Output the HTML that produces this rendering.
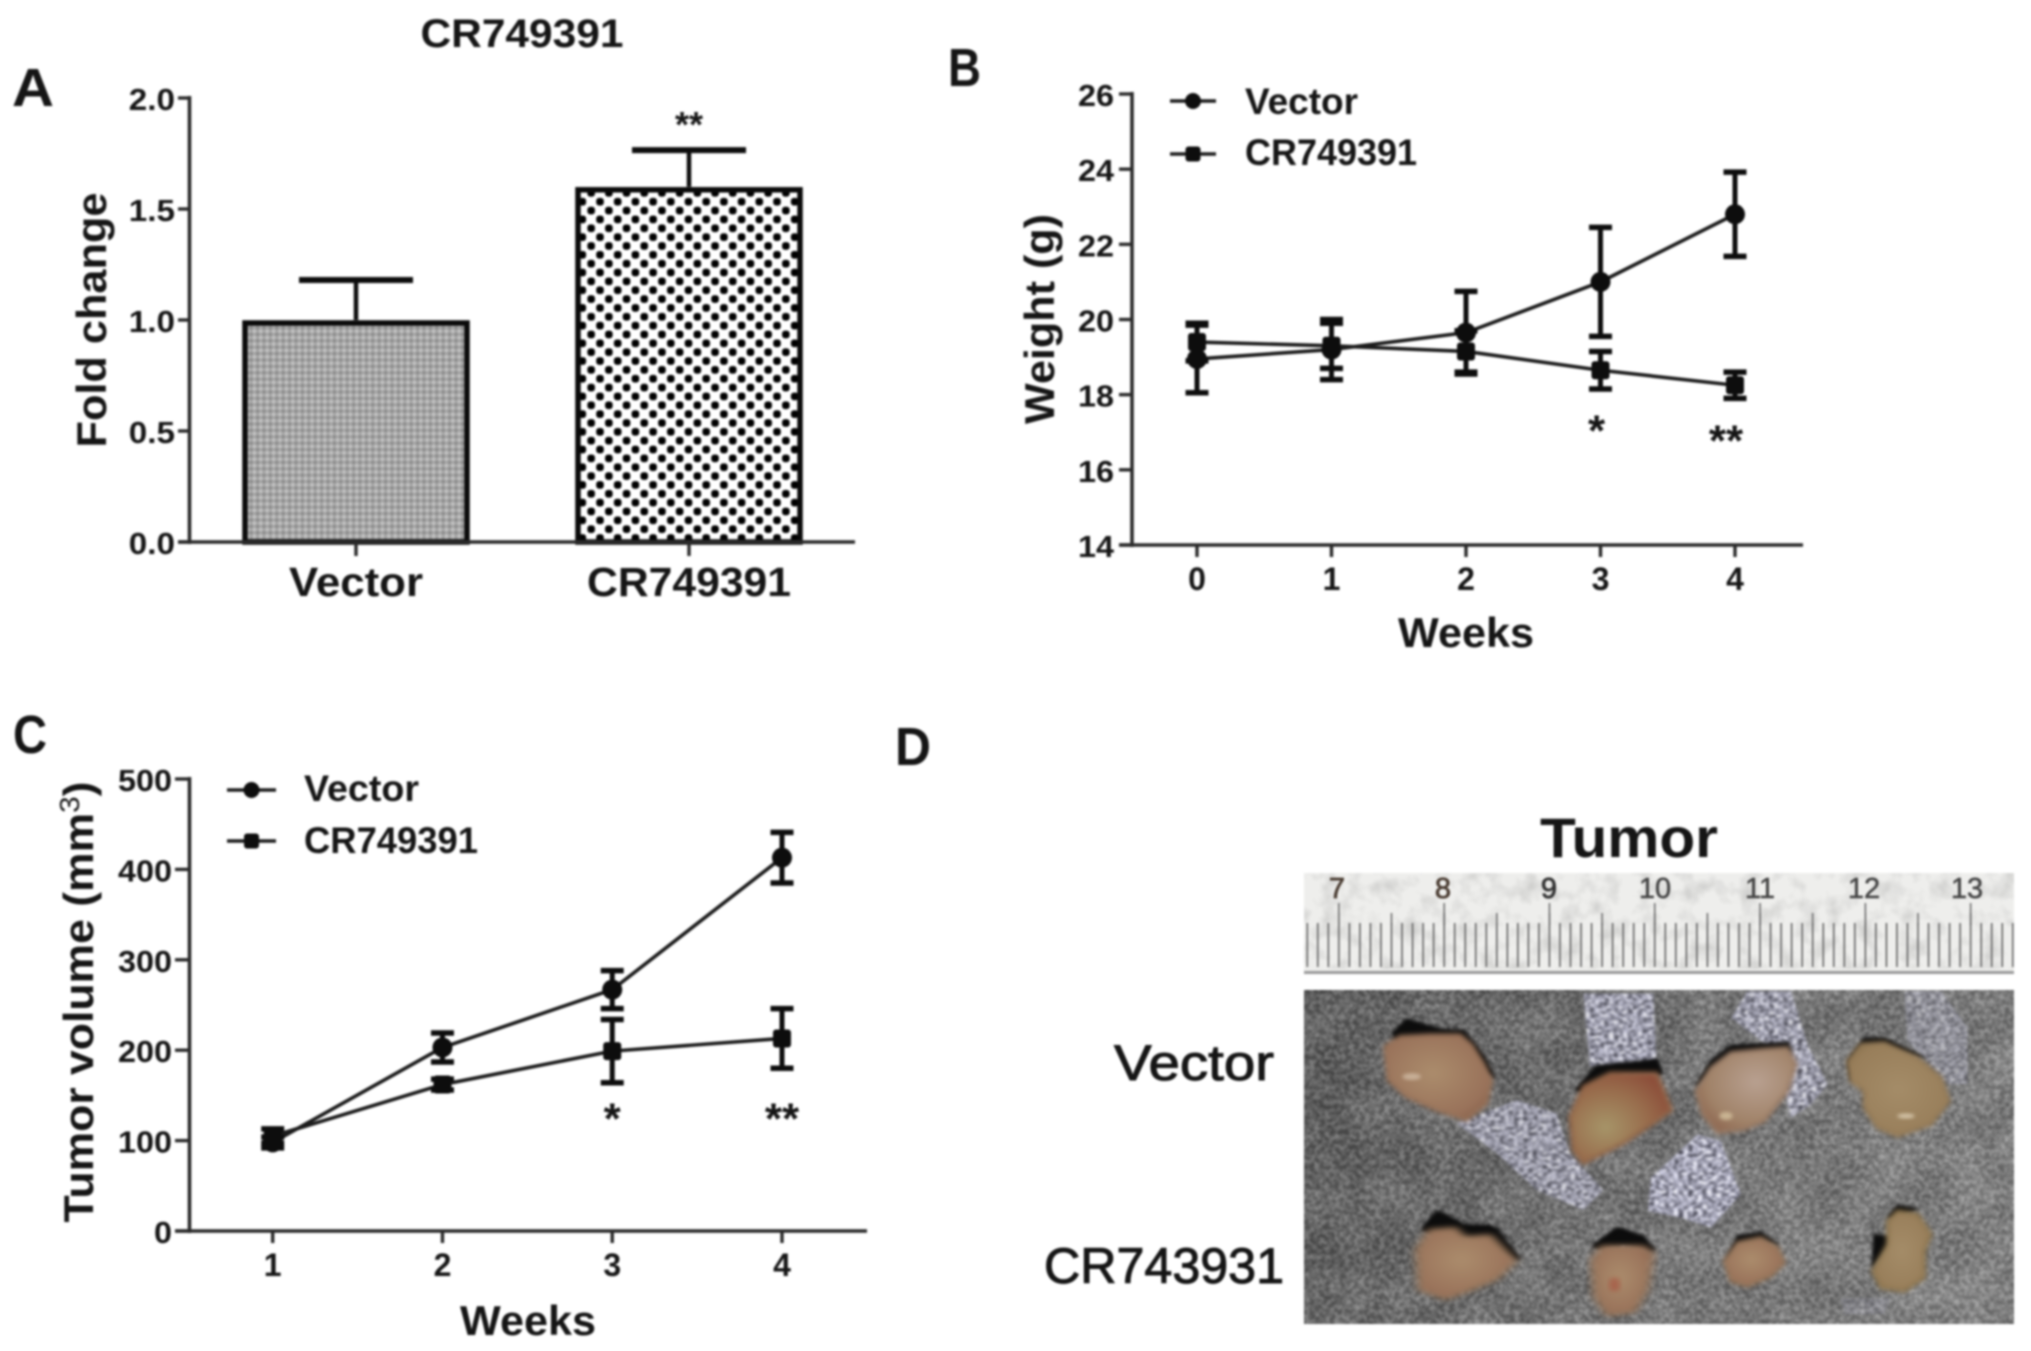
<!DOCTYPE html>
<html lang="en">
<head>
<meta charset="utf-8">
<title>CR749391 tumor figure</title>
<style>
html,body{margin:0;padding:0;background:#fff;}
svg{display:block;}
text{font-family:"Liberation Sans",sans-serif;fill:#151515;}
.b{font-weight:700;}
</style>
</head>
<body>
<svg id="figure" xmlns="http://www.w3.org/2000/svg" width="2031" height="1351" viewBox="0 0 2031 1351">
<defs>
  <filter id="soft" x="-2%" y="-2%" width="104%" height="104%" color-interpolation-filters="sRGB"><feGaussianBlur stdDeviation="1"/></filter>
  <filter id="soft3" x="-20%" y="-20%" width="140%" height="140%" color-interpolation-filters="sRGB"><feGaussianBlur stdDeviation="5"/></filter>
  <filter id="soft-tissue" x="-10%" y="-10%" width="120%" height="120%" color-interpolation-filters="sRGB"><feGaussianBlur stdDeviation="7"/></filter>
  <filter id="noise" x="0" y="0" width="1" height="1" color-interpolation-filters="sRGB">
    <feTurbulence type="fractalNoise" baseFrequency="0.2" numOctaves="3" seed="7"/>
    <feColorMatrix values="2 0 0 0 -0.58  2 0 0 0 -0.58  2 0 0 0 -0.58  0 0 0 0 1"/>
  </filter>
  <filter id="mottle" x="0" y="0" width="1" height="1" color-interpolation-filters="sRGB">
    <feTurbulence type="fractalNoise" baseFrequency="0.022" numOctaves="3" seed="11"/>
    <feColorMatrix values="2.6 0 0 0 -0.85  2.6 0 0 0 -0.85  2.6 0 0 0 -0.85  0 0 0 0 1"/>
  </filter>
  <filter id="paper" x="0" y="0" width="1" height="1" color-interpolation-filters="sRGB">
    <feTurbulence type="fractalNoise" baseFrequency="0.05" numOctaves="3" seed="3"/>
    <feColorMatrix values="1.6 0 0 0 0.1  1.6 0 0 0 0.1  1.6 0 0 0 0.1  0 0 0 0 1"/>
  </filter>
  <filter id="silver" x="0" y="0" width="1" height="1" color-interpolation-filters="sRGB">
    <feTurbulence type="fractalNoise" baseFrequency="0.07 0.11" numOctaves="2" seed="4"/>
    <feColorMatrix values="1.7 0 0 0 -0.2  1.7 0 0 0 -0.2  1.8 0 0 0 -0.18  0 0 0 0 1"/>
    <feComposite in2="SourceAlpha" operator="in"/>
    <feGaussianBlur stdDeviation="3"/>
  </filter>
  <pattern id="check-coarse" patternUnits="userSpaceOnUse" x="595.6" y="197.3" width="17.7" height="17.7">
    <rect width="17.7" height="17.7" fill="#fff"/>
    <rect x="0.6" y="0.6" width="7.6" height="7.6" rx="2.8" fill="#000"/>
    <rect x="9.45" y="9.45" width="7.6" height="7.6" rx="2.8" fill="#000"/>
  </pattern>
  <pattern id="check-fine" patternUnits="userSpaceOnUse" width="6.4" height="6.4">
    <rect width="6.4" height="6.4" fill="#a6a6a6"/>
    <rect x="0" y="0" width="3.2" height="3.2" fill="#8c8c8c"/>
    <rect x="3.2" y="3.2" width="3.2" height="3.2" fill="#c4c4c4"/>
  </pattern>
  <pattern id="mm-ticks" patternUnits="userSpaceOnUse" x="1338" y="0" width="10.53" height="1351">
    <rect x="0" y="923" width="1.7" height="44" fill="#6c6c6c"/>
  </pattern>
  <pattern id="half-ticks" patternUnits="userSpaceOnUse" x="1338" y="0" width="52.65" height="1351">
    <rect x="0" y="913" width="1.7" height="12" fill="#777"/>
  </pattern>
  <pattern id="cm-ticks" patternUnits="userSpaceOnUse" x="1338" y="0" width="105.3" height="1351">
    <rect x="0" y="903" width="1.7" height="22" fill="#777"/>
  </pattern>
  <linearGradient id="board" x1="0" y1="0" x2="1" y2="0.2">
    <stop offset="0" stop-color="#5a5a5a"/>
    <stop offset="0.5" stop-color="#747474"/>
    <stop offset="1" stop-color="#868686"/>
  </linearGradient>
  <radialGradient id="tissue-warm" cx="0.45" cy="0.45" r="0.65">
    <stop offset="0" stop-color="#ab8c6c"/>
    <stop offset="0.8" stop-color="#99725a"/>
    <stop offset="1" stop-color="#86604a"/>
  </radialGradient>
  <radialGradient id="tissue-red" cx="0.35" cy="0.6" r="0.7">
    <stop offset="0" stop-color="#a69468"/>
    <stop offset="0.6" stop-color="#986c4c"/>
    <stop offset="1" stop-color="#8c4e3a"/>
  </radialGradient>
  <radialGradient id="tissue-pink" cx="0.6" cy="0.4" r="0.7">
    <stop offset="0" stop-color="#b8a090"/>
    <stop offset="0.7" stop-color="#a08268"/>
    <stop offset="1" stop-color="#8c644e"/>
  </radialGradient>
  <radialGradient id="tissue-olive" cx="0.5" cy="0.5" r="0.65">
    <stop offset="0" stop-color="#a48c68"/>
    <stop offset="0.8" stop-color="#987e5a"/>
    <stop offset="1" stop-color="#806a46"/>
  </radialGradient>
</defs>

<g id="root" filter="url(#soft)">
  <text class="b" x="12" y="106" font-size="54" textLength="42" lengthAdjust="spacingAndGlyphs">A</text>
  <text class="b" x="948" y="86" font-size="54" textLength="33" lengthAdjust="spacingAndGlyphs">B</text>
  <text class="b" x="13" y="753" font-size="54" textLength="34" lengthAdjust="spacingAndGlyphs">C</text>
  <text class="b" x="895" y="765" font-size="54" textLength="36" lengthAdjust="spacingAndGlyphs">D</text>

  <text class="b" x="522" y="47" font-size="40" text-anchor="middle" textLength="203" lengthAdjust="spacingAndGlyphs">CR749391</text>
  <text class="b" transform="translate(106 320) rotate(-90)" font-size="42" text-anchor="middle" textLength="255" lengthAdjust="spacingAndGlyphs">Fold change</text>
  <g id="chart-a"></g>

  <text class="b" transform="translate(1054 319) rotate(-90)" font-size="42" text-anchor="middle" textLength="210" lengthAdjust="spacingAndGlyphs">Weight (g)</text>
  <text class="b" x="1466" y="647" font-size="42" text-anchor="middle" textLength="136" lengthAdjust="spacingAndGlyphs">Weeks</text>
  <g id="chart-b"></g>

  <text class="b" transform="translate(93 1002) rotate(-90)" font-size="42" text-anchor="middle" textLength="441" lengthAdjust="spacingAndGlyphs">Tumor volume (mm<tspan dy="-14" font-size="28" font-weight="400">3</tspan><tspan dy="14">)</tspan></text>
  <text class="b" x="528" y="1335" font-size="42" text-anchor="middle" textLength="136" lengthAdjust="spacingAndGlyphs">Weeks</text>
  <g id="chart-c"></g>

  <text class="b" x="1636" y="857" font-size="56" text-anchor="middle" textLength="178" lengthAdjust="spacingAndGlyphs" transform="translate(-7 0)">Tumor</text>
  <text x="1114" y="1080" font-size="50" stroke="#151515" stroke-width="1" textLength="160" lengthAdjust="spacingAndGlyphs">Vector</text>
  <text x="1049" y="1284" font-size="50" stroke="#151515" stroke-width="1" textLength="240" lengthAdjust="spacingAndGlyphs" transform="translate(-5 -1)">CR743931</text>

  <g>
    <rect x="1304" y="873" width="710" height="100" fill="#eeeeec"/>
    <rect x="1304" y="873" width="710" height="96" filter="url(#paper)" opacity="0.18" style="mix-blend-mode:multiply"/>
    <rect x="1304" y="923" width="710" height="44" fill="url(#mm-ticks)"/>
    <rect x="1304" y="913" width="710" height="12" fill="url(#half-ticks)"/>
    <rect x="1304" y="903" width="710" height="22" fill="url(#cm-ticks)"/>
    <rect x="1304" y="971" width="710" height="3" fill="#9a9a9a"/>
    <text x="1337" y="898" font-size="29" text-anchor="middle" stroke="#4a3c32" stroke-width="0.8" style="fill:#4a3c32">7</text>
    <text x="1443" y="898" font-size="29" text-anchor="middle" stroke="#4a3c32" stroke-width="0.8" style="fill:#4a3c32">8</text>
    <text x="1549" y="898" font-size="29" text-anchor="middle" stroke="#333" stroke-width="0.8" style="fill:#333">9</text>
    <text x="1655" y="898" font-size="29" text-anchor="middle" stroke="#444" stroke-width="0.5" style="fill:#444">10</text>
    <text x="1760" y="898" font-size="29" text-anchor="middle" stroke="#444" stroke-width="0.5" style="fill:#444">11</text>
    <text x="1864" y="898" font-size="29" text-anchor="middle" stroke="#444" stroke-width="0.5" style="fill:#444">12</text>
    <text x="1967" y="898" font-size="29" text-anchor="middle" stroke="#444" stroke-width="0.5" style="fill:#444">13</text>
  </g>

  <g>
    <svg x="1304" y="990" width="710" height="334" viewBox="1304 990 710 334" preserveAspectRatio="none" overflow="hidden">
    <rect x="1304" y="990" width="710" height="334" fill="url(#board)"/>
    <rect x="1304" y="990" width="710" height="334" filter="url(#noise)" opacity="0.22"/>
    <rect x="1304" y="990" width="710" height="334" filter="url(#mottle)" opacity="0.07"/>

    <g transform="translate(1290 860) scale(0.3333)">
      <polygon points="880,400 1090,400 1100,610 900,620" filter="url(#silver)" opacity="0.9"/>
      <polygon points="500,790 680,720 800,760 840,880 940,990 880,1050 740,990 620,880" filter="url(#silver)" opacity="0.8"/>
    </g>
    <g transform="translate(1631 951) scale(0.3333)">
      <polygon points="60,680 200,550 270,570 330,730 240,830 150,800 50,780" filter="url(#silver)"/>
      <polygon points="300,200 350,120 480,120 530,280 590,400 540,460 480,500 430,300" filter="url(#silver)" opacity="0.85"/>
      <polygon points="820,120 930,120 1010,230 1010,400 950,400 830,270" filter="url(#silver)" opacity="0.5"/>
      <polygon points="630,1040 780,1040 760,1090 640,1090" filter="url(#silver)" opacity="0.3"/>
    </g>

    <!-- tumors, coordinates in the 3x crop space -->
    <g transform="translate(1290 860) scale(0.3333)" stroke-linejoin="round">
      <polygon points="310,520 350,480 450,510 520,515 580,590 610,650 500,560 320,540" fill="#0c0c0c" stroke="#0c0c0c" stroke-width="10" filter="url(#soft3)"/>
      <polygon points="285,560 330,530 420,525 510,525 545,555 580,610 605,660 590,730 530,780 440,750 350,710 295,660" fill="url(#tissue-warm)" stroke="#987258" stroke-width="10" filter="url(#soft-tissue)"/>
      <ellipse cx="365" cy="650" rx="28" ry="10" fill="#d8c4ae" opacity="0.7" filter="url(#soft3)"/>
      <polygon points="860,690 920,620 1100,600 1115,640 1000,640 880,690" fill="#0c0c0c" stroke="#0c0c0c" stroke-width="10" filter="url(#soft3)"/>
      <polygon points="840,770 880,680 960,640 1060,640 1100,640 1145,750 1090,790 1000,850 880,910 850,870" fill="url(#tissue-red)" stroke="#926648" stroke-width="10" filter="url(#soft-tissue)"/>
      <polygon points="400,1110 440,1060 520,1100 600,1100 680,1190 600,1140 430,1120" fill="#0c0c0c" stroke="#0c0c0c" stroke-width="8" filter="url(#soft3)"/>
      <polygon points="910,1160 980,1105 1060,1130 1090,1170 1000,1150" fill="#0c0c0c" stroke="#0c0c0c" stroke-width="8" filter="url(#soft3)"/>
    </g>
    <g transform="translate(1631 951) scale(0.3333)" stroke-linejoin="round">
      <polygon points="200,400 240,330 300,285 470,275 480,300 300,310 230,370" fill="#0c0c0c" stroke="#0c0c0c" stroke-width="8" filter="url(#soft3)"/>
      <polygon points="195,420 240,350 300,305 400,295 470,290 495,340 470,420 400,510 340,535 260,545 215,490" fill="url(#tissue-pink)" stroke="#987a64" stroke-width="10" filter="url(#soft-tissue)"/>
      <ellipse cx="285" cy="495" rx="20" ry="12" fill="#dccba6" opacity="0.7" filter="url(#soft3)"/>
      <polygon points="650,330 700,262 760,262 880,320 760,285 680,300 660,390" fill="#0c0c0c" stroke="#0c0c0c" stroke-width="6" filter="url(#soft3)"/>
      <polygon points="650,330 690,280 760,275 860,320 930,380 955,450 900,520 800,555 740,530 700,470 700,420 660,390" fill="url(#tissue-olive)" stroke="#947a56" stroke-width="10" filter="url(#soft-tissue)"/>
      <ellipse cx="825" cy="495" rx="26" ry="8" fill="#e4d6bc" opacity="0.75" filter="url(#soft3)"/>
      <polygon points="285,930 320,855 390,845 440,880 400,868 320,880" fill="#0c0c0c" stroke="#0c0c0c" stroke-width="6" filter="url(#soft3)"/>
      <polygon points="280,930 320,875 390,860 440,890 460,935 420,975 350,1005 300,990" fill="url(#tissue-warm)" stroke="#947458" stroke-width="10" filter="url(#soft-tissue)"/>
      <polygon points="770,800 800,762 860,775 780,800" fill="#0c0c0c" stroke="#0c0c0c" stroke-width="4" filter="url(#soft3)"/>
      <polygon points="730,850 775,860 770,890 725,945" fill="#0c0c0c" stroke="#0c0c0c" stroke-width="6" filter="url(#soft3)"/>
      <polygon points="770,810 800,780 860,790 900,850 880,900 880,980 820,1020 750,1010 725,960 770,880" fill="url(#tissue-olive)" stroke="#8c744c" stroke-width="10" filter="url(#soft-tissue)"/>
    </g>
    <g transform="translate(1031 780) scale(0.6378 0.3642)" stroke-linejoin="round">
      <polygon points="615,1230 640,1185 680,1225 730,1230 765,1320 700,1260 660,1240" fill="#0c0c0c" stroke="#0c0c0c" stroke-width="6" filter="url(#soft3)"/>
      <polygon points="605,1290 625,1235 665,1230 680,1255 720,1250 760,1320 730,1370 690,1400 650,1425 610,1400" fill="url(#tissue-warm)" stroke="#967658" stroke-width="6" filter="url(#soft-tissue)"/>
      <polygon points="885,1280 925,1235 975,1290 940,1270 895,1285" fill="#0c0c0c" stroke="#0c0c0c" stroke-width="6" filter="url(#soft3)"/>
      <polygon points="880,1320 895,1280 960,1280 975,1300 965,1400 945,1460 905,1470 885,1420" fill="url(#tissue-warm)" stroke="#967456" stroke-width="6" filter="url(#soft-tissue)"/>
      <ellipse cx="915" cy="1385" rx="8" ry="20" fill="#a84a38" opacity="0.6" filter="url(#soft3)"/>
    </g>
    </svg>
  </g>
</g>

<script>
// Chart A: bar chart values
var barCategories = ['Vector', 'CR749391'];
var barValues = [1.0, 1.6];
var barErrors = [0.18, 0.165];
var barStars = ['', '**'];
var barTickLabels = ['0.0', '0.5', '1.0', '1.5', '2.0'];

// Chart B: body weight by week
var weightWeeks = ['0', '1', '2', '3', '4'];
var weightVector = [18.95, 19.2, 19.65, 21.0, 22.8];
var weightVectorErr = [0.9, 0.8, 1.1, 1.45, 1.12];
var weightCR = [19.4, 19.3, 19.15, 18.65, 18.25];
var weightCRErr = [0.5, 0.6, 0.55, 0.5, 0.35];
var weightStars = ['', '', '', '*', '**'];
var weightTickLabels = ['14', '16', '18', '20', '22', '24', '26'];

// Chart C: tumor volume by week
var volumeWeeks = ['1', '2', '3', '4'];
var volumeVector = [98, 203, 267, 413];
var volumeVectorErr = [6, 16, 21, 28];
var volumeCR = [105, 162, 199, 213];
var volumeCRErr = [8, 6, 35, 33];
var volumeStars = ['', '', '*', '**'];
var volumeTickLabels = ['0', '100', '200', '300', '400', '500'];

var SVGNS = 'http://www.w3.org/2000/svg';

function make(parent, tag, attrs) {
  var el = document.createElementNS(SVGNS, tag);
  for (var k in attrs) { el.setAttribute(k, attrs[k]); }
  parent.appendChild(el);
  return el;
}

function linear(d0, d1, r0, r1) {
  return function (v) { return r0 + (v - d0) * (r1 - r0) / (d1 - d0); };
}

function drawAxes(g, cfg) {
  var color = '#2a2a2a';
  var yLine = make(g, 'line', { x1: cfg.axisX, x2: cfg.axisX, y1: cfg.y(cfg.yMax) - 2, y2: cfg.y(cfg.yMin) + 2, stroke: color, 'stroke-width': 3.6 });
  
  
  var xLine = make(g, 'line', { x1: cfg.tickLeft, x2: cfg.axisEnd, y1: cfg.y(cfg.yMin), y2: cfg.y(cfg.yMin), stroke: color, 'stroke-width': 3.6 });
  
  
  cfg.yLabels.forEach(function (lab) {
    var v = parseFloat(lab);
    var t = make(g, 'line', { x1: cfg.tickLeft, x2: cfg.axisX, y1: cfg.y(v), y2: cfg.y(v), stroke: color, 'stroke-width': 3.4 });
    
    
    var tx = make(g, 'text', { x: cfg.labelRight, y: cfg.y(v) + 12, 'font-size': 31, 'font-weight': 700, 'text-anchor': 'end', textLength: lab.length * cfg.charW, lengthAdjust: 'spacingAndGlyphs' });
    tx.textContent = lab;
    
    
  });
  cfg.categories.forEach(function (lab, i) {
    var x = cfg.x(i);
    var t = make(g, 'line', { x1: x, x2: x, y1: cfg.y(cfg.yMin), y2: cfg.tickBottom, stroke: color, 'stroke-width': 3.4 });
    
    
    var tx = make(g, 'text', { x: x, y: cfg.xLabelY, 'font-size': cfg.xLabelSize, 'font-weight': 700, 'text-anchor': 'middle' });
    if (cfg.xLabelWidth) {
      tx.setAttribute('textLength', cfg.xLabelWidth[i]);
      tx.setAttribute('lengthAdjust', 'spacingAndGlyphs');
    }
    tx.textContent = lab;
    
    
  });
}

function drawMarker(g, kind, x, y, size, name) {
  var m;
  if (kind === 'circle') {
    m = make(g, 'circle', { cx: x, cy: y, r: size, fill: '#0d0d0d' });
  } else {
    m = make(g, 'rect', { x: x - size, y: y - size, width: size * 2, height: size * 2, rx: 3, fill: '#0d0d0d' });
  }
  
  
  return m;
}

function drawSeries(g, cfg, values, errors, kind, name) {
  var pts = values.map(function (v, i) { return cfg.x(i) + ',' + cfg.y(v); }).join(' ');
  var line = make(g, 'polyline', { points: pts, fill: 'none', stroke: '#1c1c1c', 'stroke-width': 3.6 });
  
  
  values.forEach(function (v, i) {
    var x = cfg.x(i);
    var hi = cfg.y(v + errors[i]);
    var lo = cfg.y(v - errors[i]);
    var stem = make(g, 'line', { x1: x, x2: x, y1: hi, y2: lo, stroke: '#0d0d0d', 'stroke-width': 5 });
    
    
    var capT = make(g, 'line', { x1: x - 11.5, x2: x + 11.5, y1: hi, y2: hi, stroke: '#0d0d0d', 'stroke-width': 5.5 });
    
    
    var capB = make(g, 'line', { x1: x - 11.5, x2: x + 11.5, y1: lo, y2: lo, stroke: '#0d0d0d', 'stroke-width': 5.5 });
    
    
    drawMarker(g, kind, x, cfg.y(v), kind === 'circle' ? 10 : 9, name + '-point');
  });
}

function drawStars(g, stars, xf, yf, size, name) {
  stars.forEach(function (s, i) {
    if (!s) { return; }
    var st = make(g, 'text', { x: xf(i), y: yf(i) + size * 0.58, 'font-size': size, 'font-weight': 700, 'text-anchor': 'middle' });
    st.textContent = s;
    
    
  });
}

function drawLegend(g, entries) {
  entries.forEach(function (e) {
    var ln = make(g, 'line', { x1: e.x1, x2: e.x2, y1: e.y, y2: e.y, stroke: '#1c1c1c', 'stroke-width': 3.6 });
    
    
    drawMarker(g, e.kind, (e.x1 + e.x2) / 2, e.y, e.kind === 'circle' ? 8 : 7.5, 'legend-marker-' + e.id);
    var tx = make(g, 'text', { x: e.tx, y: e.ty, 'font-size': 37, 'font-weight': 700, textLength: e.w, lengthAdjust: 'spacingAndGlyphs' });
    tx.textContent = e.label;
    
    
  });
}

/* ---------- Chart A ---------- */
(function () {
  var g = document.getElementById('chart-a');
  var y = linear(0, 2, 542, 98);
  var centers = linear(0, 1, 356, 689);
  var barPatterns = ['url(#check-fine)', 'url(#check-coarse)'];
  barValues.forEach(function (v, i) {
    var cx = centers(i);
    var e = y(v + barErrors[i]);
    var stem = make(g, 'line', { x1: cx, x2: cx, y1: e, y2: y(v), stroke: '#0d0d0d', 'stroke-width': 4.5 });
    
    
    var cap = make(g, 'line', { x1: cx - 57, x2: cx + 57, y1: e, y2: e, stroke: '#0d0d0d', 'stroke-width': 6 });
    
    
    var bar = make(g, 'rect', { x: cx - 111, y: y(v) + 3, width: 222, height: y(0) - y(v) - 3, fill: barPatterns[i], stroke: '#0a0a0a', 'stroke-width': 5.5 });
    
    
  });
  drawAxes(g, {
    name: 'chart-a', axisX: 189.5, axisEnd: 855, tickLeft: 178, tickBottom: 556,
    y: y, x: centers, yMin: 0, yMax: 2, yLabels: barTickLabels, labelRight: 175, charW: 15.4,
    categories: barCategories, xLabelY: 596, xLabelSize: 41, xLabelWidth: [134, 204]
  });
  drawStars(g, barStars, centers, function () { return 116; }, 36, 'chart-a');
})();

/* ---------- Chart B ---------- */
(function () {
  var g = document.getElementById('chart-b');
  var cfg = {
    name: 'chart-b', axisX: 1132, axisEnd: 1803, tickLeft: 1119, tickBottom: 557,
    y: linear(14, 26, 545, 94), x: linear(0, 4, 1197, 1735), yMin: 14, yMax: 26,
    yLabels: weightTickLabels, labelRight: 1114, charW: 18,
    categories: weightWeeks, xLabelY: 590, xLabelSize: 32
  };
  drawAxes(g, cfg);
  drawSeries(g, cfg, weightVector, weightVectorErr, 'circle', 'weight-vector');
  drawSeries(g, cfg, weightCR, weightCRErr, 'square', 'weight-cr749391');
  drawStars(g, weightStars, function (i) { return cfg.x(i) - (i === 4 ? 9 : 4); }, function (i) { return i === 4 ? 430 : 420; }, 44, 'chart-b');
  drawLegend(g, [
    { id: 'b-vector', x1: 1170, x2: 1216, y: 101, kind: 'circle', tx: 1245, ty: 114, w: 113, label: 'Vector' },
    { id: 'b-cr749391', x1: 1170, x2: 1216, y: 154, kind: 'square', tx: 1245, ty: 165, w: 172, label: 'CR749391' }
  ]);
})();

/* ---------- Chart C ---------- */
(function () {
  var g = document.getElementById('chart-c');
  var cfg = {
    name: 'chart-c', axisX: 189.5, axisEnd: 867, tickLeft: 175, tickBottom: 1243,
    y: linear(0, 500, 1231, 779), x: linear(0, 3, 272.7, 782), yMin: 0, yMax: 500,
    yLabels: volumeTickLabels, labelRight: 172, charW: 18,
    categories: volumeWeeks, xLabelY: 1276, xLabelSize: 32
  };
  drawAxes(g, cfg);
  drawSeries(g, cfg, volumeVector, volumeVectorErr, 'circle', 'volume-vector');
  drawSeries(g, cfg, volumeCR, volumeCRErr, 'square', 'volume-cr749391');
  drawStars(g, volumeStars, cfg.x, function () { return 1108; }, 44, 'chart-c');
  drawLegend(g, [
    { id: 'c-vector', x1: 227, x2: 276, y: 790, kind: 'circle', tx: 304, ty: 801, w: 115, label: 'Vector' },
    { id: 'c-cr749391', x1: 227, x2: 276, y: 841, kind: 'square', tx: 304, ty: 853, w: 174, label: 'CR749391' }
  ]);
})();
</script>
</svg>
</body>
</html>
